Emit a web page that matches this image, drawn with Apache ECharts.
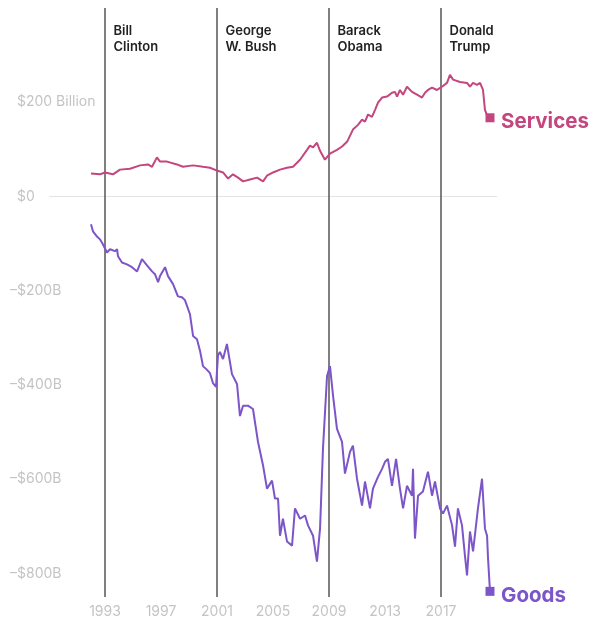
<!DOCTYPE html>
<html>
<head>
<meta charset="utf-8">
<script src="https://cdn.jsdelivr.net/npm/echarts@6/dist/echarts.min.js"></script>
<style>
html,body{margin:0;padding:0;background:#fff;}
#chart{width:592px;height:619px;}
</style>
</head>
<body>
<div id="chart"></div>
<script>
// ---- data (annualized trade balance, $ billions) ----
const servicesYears = [1992.0,1992.64,1993.0,1993.57,1994.07,1994.79,1995.5,1996.07,1996.36,1996.71,1996.93,1997.43,1998.14,1998.57,1999.29,2000.0,2000.5,2001.0,2001.43,2001.79,2002.14,2002.5,2002.86,2003.36,2003.86,2004.29,2004.57,2005.0,2005.5,2006.0,2006.43,2006.93,2007.43,2007.64,2007.86,2008.14,2008.36,2008.71,2009.07,2009.57,2009.93,2010.29,2010.71,2011.07,2011.36,2011.57,2011.79,2012.07,2012.29,2012.5,2012.79,2013.14,2013.5,2013.71,2013.86,2014.07,2014.29,2014.57,2014.93,2015.29,2015.64,2015.86,2016.07,2016.36,2016.71,2017.07,2017.43,2017.64,2017.86,2018.36,2018.86,2019.07,2019.29,2019.57,2019.79,2020.0,2020.14,2020.36,2020.5];
const servicesValues = [49,47,51,47,57,59,66,68,63,83,74,74,68,63,66,63,61,55,51,38,47,40,32,36,40,32,44,51,57,61,63,78,99,108,104,114,97,78,91,99,106,116,142,152,163,159,174,169,184,199,210,212,220,222,212,226,216,233,222,216,210,220,226,231,226,233,241,258,248,243,241,233,241,237,241,226,184,167,167];

const goodsYears = [1992.0,1992.14,1992.43,1992.64,1992.86,1993.0,1993.14,1993.36,1993.71,1993.86,1993.93,1994.21,1994.57,1994.93,1995.29,1995.64,1996.0,1996.36,1996.57,1996.79,1996.93,1997.29,1997.5,1997.86,1998.21,1998.5,1998.71,1999.07,1999.29,1999.57,1999.79,2000.0,2000.29,2000.5,2000.71,2000.93,2001.07,2001.21,2001.43,2001.71,2002.07,2002.43,2002.64,2002.86,2003.21,2003.57,2003.93,2004.29,2004.57,2004.93,2005.14,2005.36,2005.5,2005.71,2006.0,2006.36,2006.57,2006.93,2007.29,2007.5,2007.86,2008.14,2008.36,2008.57,2008.86,2009.07,2009.29,2009.57,2009.93,2010.14,2010.5,2010.71,2011.0,2011.36,2011.57,2011.93,2012.14,2012.5,2012.79,2013.0,2013.21,2013.5,2013.79,2014.07,2014.29,2014.57,2014.93,2015.0,2015.14,2015.36,2015.71,2016.07,2016.36,2016.57,2016.93,2017.14,2017.43,2017.79,2018.0,2018.21,2018.5,2018.71,2018.86,2019.07,2019.29,2019.64,2019.93,2020.14,2020.29,2020.36,2020.5];
const goodsValues = [-59,-74,-85,-91,-102,-106,-119,-112,-116,-112,-127,-140,-144,-150,-159,-133,-146,-159,-165,-182,-169,-150,-169,-186,-212,-214,-220,-250,-296,-303,-328,-360,-368,-375,-396,-404,-337,-330,-345,-313,-377,-398,-466,-444,-444,-451,-521,-571,-620,-603,-641,-641,-720,-684,-732,-741,-662,-684,-677,-698,-720,-775,-705,-535,-381,-360,-423,-493,-521,-588,-542,-529,-599,-656,-605,-662,-620,-595,-578,-563,-557,-614,-557,-620,-662,-614,-635,-578,-726,-635,-626,-584,-635,-605,-662,-673,-656,-698,-743,-662,-698,-762,-804,-711,-753,-662,-599,-705,-720,-768,-838];

const presidents = ['Bill\nClinton','George\nW. Bush','Barack\nObama','Donald\nTrump'];
const presidentStart = [1993, 2001, 2009, 2017];
const yTickLabels = {'200':'$200 Billion','0':'$0','-200':'–$200B','-400':'–$400B','-600':'–$600B','-800':'–$800B'};

// ---- chart ----
const BASE = 1993;
const servicesColor = '#c4467e';
const goodsColor = '#7c55c8';
const FONT = 'Inter, "Open Sans", sans-serif';

function toData(years, values){
  return years.map((y,i)=>{
    const d = {value:[y-BASE, values[i]]};
    if(i === years.length-1){ d.symbol = 'rect'; d.symbolSize = 9; }
    return d;
  });
}

const chart = echarts.init(document.getElementById('chart'), null, {renderer:'canvas'});
chart.setOption({
  animation:false,
  backgroundColor:'#fff',
  grid:{left:49,right:95,top:8,bottom:20,containLabel:false},
  xAxis:{
    type:'value', min:-4, max:28, interval:4,
    axisLine:{show:false}, axisTick:{show:false}, splitLine:{show:false},
    axisLabel:{
      color:'#c4c4c4', fontSize:14, fontFamily:FONT, margin:8,
      formatter:v=> (v>=0 && v<=24) ? String(v+BASE) : ''
    }
  },
  yAxis:{
    type:'value', min:-850, max:400, interval:50,
    axisLine:{show:false}, axisTick:{show:false}, splitLine:{show:false},
    axisLabel:{
      color:'#c4c4c4', fontSize:14, fontFamily:FONT, align:'left', margin:39,
      formatter:v=> {
        const t = yTickLabels[String(v)];
        if(!t) return '';
        return v < 0 ? t : '{sp|}' + t;
      },
      rich:{sp:{width:7}}
    }
  },
  series:[
    {
      name:'Services', type:'line', data:toData(servicesYears, servicesValues),
      symbol:'none', showSymbol:true, z:3,
      lineStyle:{color:servicesColor,width:2}, itemStyle:{color:servicesColor},
      endLabel:{show:true, formatter:'{a}', color:servicesColor, fontSize:20.5, fontWeight:'bold', fontFamily:FONT, distance:11, offset:[0,4]},
      markLine:{
        silent:true, symbol:'none', label:{show:false}, z:1,
        data:[{yAxis:0, lineStyle:{color:'#e4e4e4',width:1,type:'solid'}}].concat(
          presidentStart.map(y=>({xAxis:y-BASE, lineStyle:{color:'#555',width:1.5,type:'solid'}})))
      },
      markPoint:{
        silent:true, symbol:'rect', symbolSize:1, itemStyle:{color:'rgba(0,0,0,0)'},
        data:presidents.map((n,i)=>({name:n, coord:[presidentStart[i]-BASE, 334]})),
        label:{show:true, position:'right', distance:8, formatter:p=>p.name, color:'#222', fontSize:13, fontWeight:600, fontFamily:FONT, lineHeight:16, align:'left'}
      }
    },
    {
      name:'Goods', type:'line', data:toData(goodsYears, goodsValues),
      symbol:'none', showSymbol:true, z:3,
      lineStyle:{color:goodsColor,width:2}, itemStyle:{color:goodsColor},
      endLabel:{show:true, formatter:'{a}', color:goodsColor, fontSize:20.5, fontWeight:'bold', fontFamily:FONT, distance:11, offset:[0,4]}
    }
  ]
});
</script>
</body>
</html>
